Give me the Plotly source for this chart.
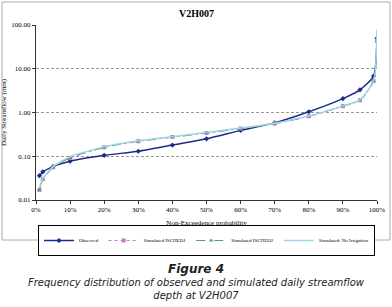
import plotly.graph_objects as go

prob = [1, 2, 5, 10, 20, 30, 40, 50, 60, 70, 80, 90, 95, 99, 100]
observed = [0.036, 0.044, 0.058, 0.077, 0.105, 0.13, 0.18, 0.25, 0.39, 0.58, 1.04, 2.08, 3.3, 6.8, 50]
isched1 = [0.017, 0.030, 0.056, 0.092, 0.16, 0.22, 0.275, 0.34, 0.43, 0.56, 0.82, 1.39, 1.9, 5.2, 43]
isched2 = [0.017, 0.030, 0.056, 0.093, 0.16, 0.22, 0.275, 0.34, 0.43, 0.56, 0.82, 1.40, 1.9, 5.3, 51]
no_irr = [0.019, 0.031, 0.058, 0.098, 0.165, 0.225, 0.28, 0.35, 0.44, 0.57, 0.83, 1.42, 1.95, 5.4, 80]

x_ticks = [0, 10, 20, 30, 40, 50, 60, 70, 80, 90, 100]
x_labels = ["0%", "10%", "20%", "30%", "40%", "50%", "60%", "70%", "80%", "90%", "100%"]
y_ticks = [0.01, 0.1, 1, 10, 100]
y_labels = ["0.01", "0.10", "1.00", "10.00", "100.00"]

serif = "Liberation Serif"
PH = 175.0
PW = 341.0

fig = go.Figure()
fig.add_trace(go.Scatter(x=prob, y=observed, name="Observed", mode="lines+markers",
                         line=dict(color="#1c2a8c", width=1.5, shape="spline", smoothing=0.6),
                         marker=dict(symbol="diamond", size=4, color="#1c2a8c")))
fig.add_trace(go.Scatter(x=prob, y=isched1, name="Simulated ISCHED1", mode="lines+markers",
                         line=dict(color="#cc77cc", width=1.2, dash="dot", shape="spline", smoothing=0.6),
                         marker=dict(symbol="square", size=4, color="#cc77cc")))
fig.add_trace(go.Scatter(x=prob, y=isched2, name="Simulated ISCHED2", mode="lines+markers",
                         line=dict(color="#5f9a6a", width=1.2, dash="dash", shape="spline", smoothing=0.6),
                         marker=dict(symbol="triangle-up", size=4, color="#5f9a6a")))
fig.add_trace(go.Scatter(x=prob, y=no_irr, name="Simulated: No Irrigation", mode="lines",
                         line=dict(color="#9ad8e6", width=1.5, shape="spline", smoothing=0.6)))

fig.update_layout(
    template="none",
    width=392, height=307,
    margin=dict(l=36, r=15, t=25, b=107, autoexpand=False),
    paper_bgcolor="white", plot_bgcolor="white",
    font=dict(family=serif, size=7, color="black"),
    showlegend=True,
    legend=dict(orientation="h", xref="container", x=206.5 / 392, xanchor="center",
                y=-(225 - 200) / PH, yanchor="top",
                bordercolor="black", borderwidth=1, font=dict(size=5, family=serif),
                itemwidth=30, tracegroupgap=0, bgcolor="white"),
    xaxis=dict(range=[0, 100], tickvals=x_ticks, ticktext=x_labels, showgrid=False, automargin=False,
               showline=True, linecolor="#333", linewidth=1, ticks="outside", ticklen=3,
               tickcolor="#333", tickfont=dict(size=7, family=serif), zeroline=False,
               title=dict(text="Non-Exceedence probability", font=dict(size=7, family=serif), standoff=6)),
    yaxis=dict(type="log", range=[-2, 2], tickvals=y_ticks, ticktext=y_labels, automargin=False,
               showgrid=True, gridcolor="#999", griddash="3px,2px", gridwidth=1, zeroline=False,
               showline=True, linecolor="#333", linewidth=1, ticks="outside", ticklen=3,
               tickcolor="#333", tickfont=dict(size=7, family=serif),
               title=dict(text="Daily Streamflow (mm)", font=dict(size=7, family=serif), standoff=6)),
)

# chart frame
fig.add_shape(type="rect", xref="paper", yref="paper", x0=-34 / PW, x1=354 / PW,
              y0=-(240 - 200) / PH, y1=1 + (25 - 2) / PH,
              line=dict(color="#aaa", width=1), layer="below")

cx = (196 - 36) / PW
fig.add_annotation(text="<b>V2H007</b>", xref="paper", yref="paper", x=cx, y=1 + (25 - 14) / PH,
                   showarrow=False, font=dict(size=10, family=serif), xanchor="center", yanchor="middle")
fig.add_annotation(text="<b>Figure 4</b>", xref="paper", yref="paper", x=cx,
                   y=-(269 - 200) / PH, showarrow=False,
                   font=dict(size=12, family="DejaVu Sans", style="italic", color="#222"),
                   xanchor="center", yanchor="middle")
fig.add_annotation(text="Frequency distribution of observed and simulated daily streamflow<br>depth at V2H007",
                   xref="paper", yref="paper", x=cx, y=-(289 - 200) / PH, showarrow=False,
                   font=dict(size=10, family="DejaVu Sans", style="italic", color="#222"),
                   xanchor="center", yanchor="middle", align="center")

fig.write_html("out.html", config={"displayModeBar": False},
               post_script="document.body.style.margin='0px';")
